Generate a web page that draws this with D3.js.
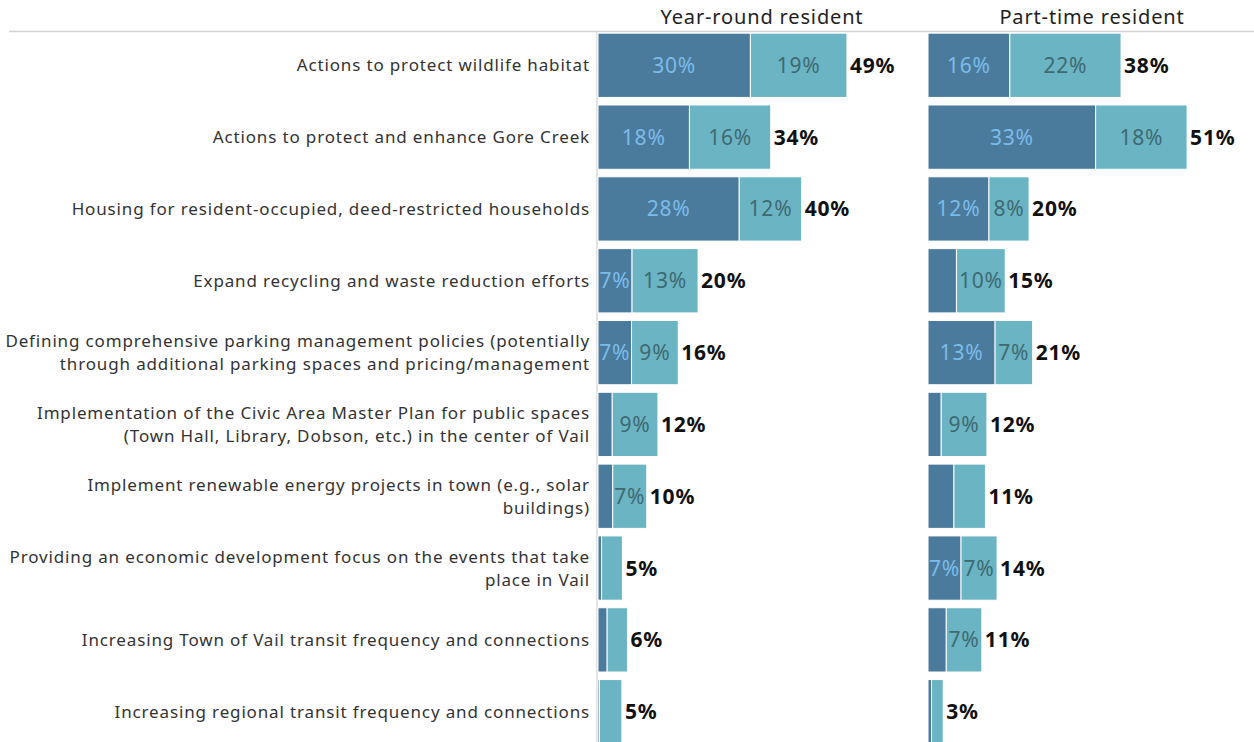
<!DOCTYPE html>
<html>
<head>
<meta charset="utf-8">
<title>Vail priorities by residency</title>
<script src="https://cdn.jsdelivr.net/npm/d3@7"></script>
<style>
  body { margin: 0; background: #fff; }
  text { font-family: "Noto Sans", "Open Sans", sans-serif; }
</style>
</head>
<body>
<div class="container"></div>
<script>
// categories, top to bottom ("\n" marks the line breaks used in the original)
var categories = [
    "Actions to protect wildlife habitat",
    "Actions to protect and enhance Gore Creek",
    "Housing for resident-occupied, deed-restricted households",
    "Expand recycling and waste reduction efforts",
    "Defining comprehensive parking management policies (potentially\nthrough additional parking spaces and pricing/management",
    "Implementation of the Civic Area Master Plan for public spaces\n(Town Hall, Library, Dobson, etc.) in the center of Vail",
    "Implement renewable energy projects in town (e.g., solar\nbuildings)",
    "Providing an economic development focus on the events that take\nplace in Vail",
    "Increasing Town of Vail transit frequency and connections",
    "Increasing regional transit frequency and connections"
];

var panels = ["Year-round resident", "Part-time resident"];

// first (dark) and second (light) segment, percent
var yearRoundFirst  = [30.0, 18.0, 27.8, 6.7, 6.6, 2.8, 2.9, 0.7, 1.8, 0.3];
var yearRoundSecond = [19.0, 16.0, 12.3, 13.0, 9.2, 9.0, 6.7, 4.1, 4.0, 4.4];
var partTimeFirst   = [16.1, 33.0, 12.0, 5.6, 13.2, 2.6, 5.1, 6.5, 3.6, 0.7];
var partTimeSecond  = [21.9, 18.0, 7.9, 9.6, 7.4, 9.0, 6.2, 7.1, 7.0, 2.3];

var width = 1254, height = 742;
var colorFirst = "#4a7b9d", colorSecond = "#6bb4c3";
var textFirst = "#7cbbe8", textSecond = "#3e6a72";

var svg = d3.select(".container").append("svg")
    .attr("width", width)
    .attr("height", height);

var y = d3.scaleBand()
    .domain(d3.range(categories.length))
    .range([31, 746])
    .paddingInner(0.105)
    .paddingOuter(0.03);

// same % scale for both panels
var panelX = [598, 928];
var x = d3.scaleLinear().domain([0, 1]).range([0, 5.08]);

// header line and panel titles
svg.append("line")
    .attr("x1", 9).attr("x2", width)
    .attr("y1", 31.5).attr("y2", 31.5)
    .attr("stroke", "#d4d4d4").attr("stroke-width", 1.5);

svg.selectAll(".title")
    .data(panels)
    .enter().append("text")
    .attr("class", "title")
    .attr("x", function(d, i) { return panelX[i] + 164; })
    .attr("y", 24)
    .attr("text-anchor", "middle")
    .attr("font-size", 20)
    .attr("letter-spacing", 0.85)
    .attr("fill", "#222")
    .text(function(d) { return d; });

// left rule of the first panel
svg.append("line")
    .attr("x1", 597).attr("x2", 597)
    .attr("y1", 32).attr("y2", height)
    .attr("stroke", "#e2e2e2").attr("stroke-width", 2);

// category labels
var labels = svg.selectAll(".cat")
    .data(categories)
    .enter().append("text")
    .attr("class", "cat")
    .attr("text-anchor", "end")
    .attr("font-size", 17)
    .attr("letter-spacing", 0.85)
    .attr("fill", "#333");

labels.each(function(d, i) {
    var lines = d.split("\n");
    var cy = y(i) + y.bandwidth() / 2;
    var t = d3.select(this);
    lines.forEach(function(line, k) {
        t.append("tspan")
            .attr("x", 590)
            .attr("y", cy + (k - (lines.length - 1) / 2) * 23 + 6)
            .text(line);
    });
});

function pct(v) { return Math.round(v) + "%"; }

function drawPanel(p, first, second) {
    var x0 = panelX[p];
    var g = svg.append("g").attr("transform", "translate(" + x0 + ",0)");

    var rows = g.selectAll(".row")
        .data(categories.map(function(c, i) { return { a: first[i], b: second[i] }; }))
        .enter().append("g")
        .attr("transform", function(d, i) { return "translate(0," + y(i) + ")"; });

    rows.append("rect")
        .attr("x", 0)
        .attr("width", function(d) { return x(d.a); })
        .attr("height", y.bandwidth())
        .attr("fill", colorFirst)
        .attr("stroke", "#fff").attr("stroke-width", 1);

    rows.append("rect")
        .attr("x", function(d) { return x(d.a); })
        .attr("width", function(d) { return x(d.b); })
        .attr("height", y.bandwidth())
        .attr("fill", colorSecond)
        .attr("stroke", "#fff").attr("stroke-width", 1);

    rows.filter(function(d) { return Math.round(d.a) >= 7; })
        .append("text")
        .attr("x", function(d) { return x(d.a) / 2; })
        .attr("y", y.bandwidth() / 2 + 7.5)
        .attr("text-anchor", "middle")
        .attr("font-size", 21)
        .attr("letter-spacing", 0.8)
        .attr("fill", textFirst)
        .text(function(d) { return pct(d.a); });

    rows.filter(function(d) { return Math.round(d.b) >= 7; })
        .append("text")
        .attr("x", function(d) { return x(d.a) + x(d.b) / 2; })
        .attr("y", y.bandwidth() / 2 + 7.5)
        .attr("text-anchor", "middle")
        .attr("font-size", 21)
        .attr("letter-spacing", 0.8)
        .attr("fill", textSecond)
        .text(function(d) { return pct(d.b); });

    rows.append("text")
        .attr("x", function(d) { return x(d.a + d.b) + 3; })
        .attr("y", y.bandwidth() / 2 + 7.5)
        .attr("font-size", 21)
        .attr("letter-spacing", 0.8)
        .attr("font-weight", "bold")
        .attr("fill", "#111")
        .text(function(d) { return pct(d.a + d.b); });
}

drawPanel(0, yearRoundFirst, yearRoundSecond);
drawPanel(1, partTimeFirst, partTimeSecond);
</script>
</body>
</html>
